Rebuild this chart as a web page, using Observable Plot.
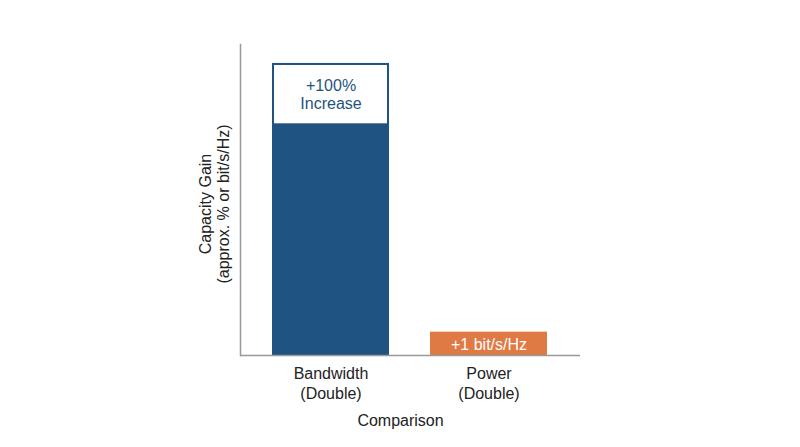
<!DOCTYPE html>
<html>
<head>
<meta charset="utf-8">
<script src="https://cdn.jsdelivr.net/npm/d3@7"></script>
<script src="https://cdn.jsdelivr.net/npm/@observablehq/plot@0.6"></script>
<style>
  html, body { margin: 0; padding: 0; background: #fff; }
  #chart svg { display: block; }
</style>
</head>
<body>
<div id="chart"></div>
<script>
const categories = ["Bandwidth", "Power"];
const tickLabels = ["Bandwidth\n(Double)", "Power\n(Double)"];
const values = [100, 8];
const colors = ["#1f5381", "#e07a45"];
const boxCategory = ["Bandwidth"];
const boxLow = [79];
const boxHigh = [100];
const annotations = ["+100%\nIncrease", "+1 bit/s/Hz"];
const annotationY = [89.5, 4];
const annotationColor = ["#1f5381", "#ffffff"];

const bars = categories.map((c, i) => ({cat: c, value: values[i], color: colors[i], tick: tickLabels[i]}));
const boxes = boxCategory.map((c, i) => ({cat: c, lo: boxLow[i], hi: boxHigh[i]}));
const notes = categories.map((c, i) => ({cat: c, y: annotationY[i], text: annotations[i], color: annotationColor[i]}));

const font = "Liberation Sans, Arial, Helvetica, sans-serif";

const chart = Plot.plot({
  width: 800,
  height: 447,
  marginLeft: 240,
  marginRight: 220,
  marginTop: 44,
  marginBottom: 92,
  style: {fontFamily: font, fontSize: "16px", background: "#fff", color: "#222"},
  x: {domain: categories, paddingInner: 0.257, paddingOuter: 0.2, axis: null},
  y: {domain: [0, 106.5], axis: null},
  marks: [
    Plot.barY(bars, {x: "cat", y: "value", fill: "color"}),
    Plot.barY(boxes, {x: "cat", y1: "lo", y2: "hi", fill: "white", stroke: colors[0], strokeWidth: 2, insetLeft: 1, insetRight: 1, insetTop: 1}),
    Plot.text(notes, {x: "cat", y: "y", text: "text", fill: "color", fontSize: 16, lineHeight: 1.15}),
    Plot.ruleY([0], {stroke: "#999", strokeWidth: 1.5}),
    Plot.frame({anchor: "left", stroke: "#999", strokeWidth: 1.5}),
    Plot.text(bars, {x: "cat", text: "tick", frameAnchor: "bottom", lineAnchor: "top", dy: 9, fontSize: 16, lineHeight: 1.25, fill: "#222"}),
    Plot.text(["Comparison"], {frameAnchor: "bottom", lineAnchor: "top", dy: 59, dx: -10, fontSize: 16, fill: "#222"}),
    Plot.text(["Capacity Gain\n(approx. % or bit/s/Hz)"], {frameAnchor: "left", textAnchor: "middle", rotate: -90, dx: -26, dy: 4, fontSize: 16, lineHeight: 1.08, fill: "#222"})
  ]
});
document.getElementById("chart").appendChild(chart);
</script>
</body>
</html>
